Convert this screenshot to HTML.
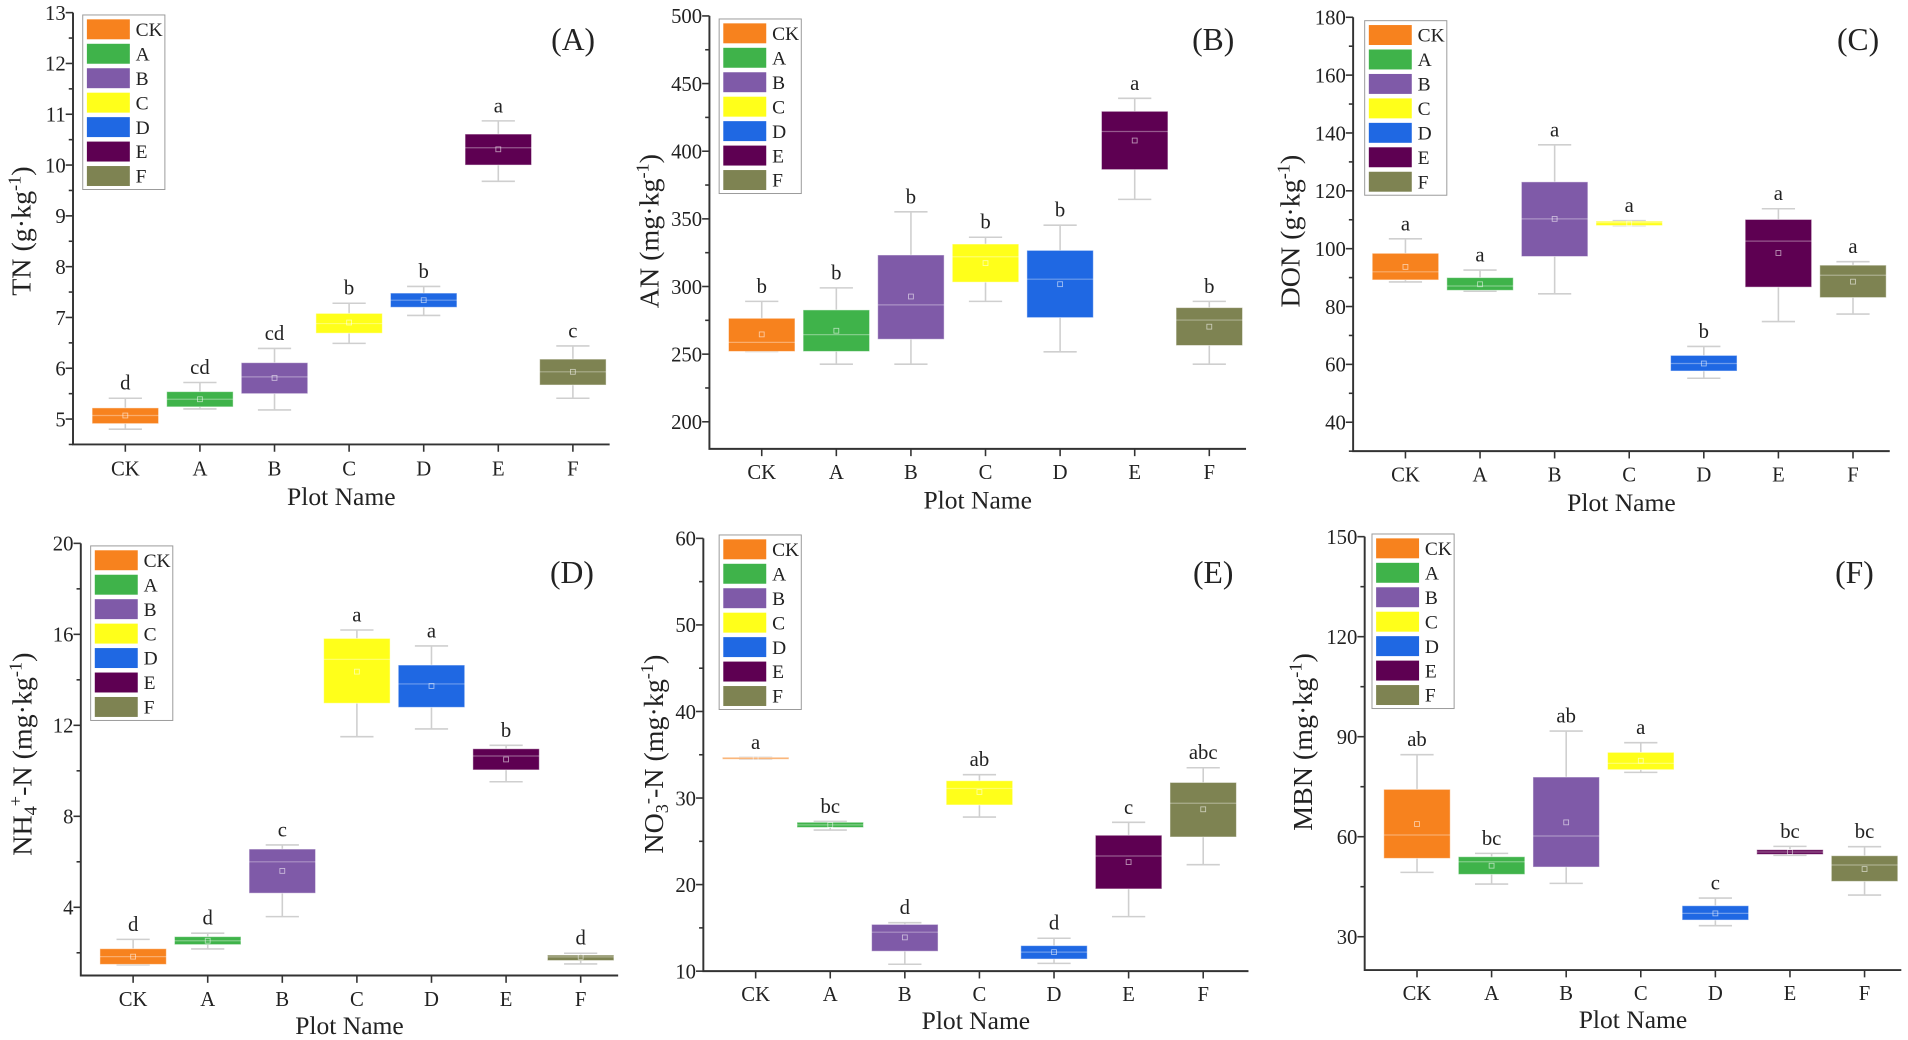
<!DOCTYPE html>
<html><head><meta charset="utf-8"><style>
html,body{margin:0;padding:0;background:#fff;}
svg{display:block;font-family:"Liberation Serif",serif;}
</style></head><body>
<svg id="fig" width="1908" height="1040" viewBox="0 0 1568 855" preserveAspectRatio="none" xmlns="http://www.w3.org/2000/svg"></svg>
<script>
const categories = ["CK","A","B","C","D","E","F"];
const colors = ["#f7821e","#3fb34a","#7f5aa8","#ffff1a","#1f68e3","#5e0052","#7e8352"];

const tnLow=[4.80,5.20,5.18,6.49,7.04,9.68,5.41], tnQ1=[4.91,5.24,5.50,6.69,7.20,10.00,5.67], tnMed=[5.07,5.39,5.83,6.88,7.34,10.34,5.93], tnQ3=[5.22,5.54,6.11,7.08,7.48,10.61,6.18], tnHigh=[5.41,5.72,6.39,7.28,7.61,10.87,6.44], tnMean=[5.07,5.39,5.81,6.90,7.34,10.31,5.93];
const tnLetters=["d","cd","cd","b","b","a","c"];
const tnTicks=[5,6,7,8,9,10,11,12,13];

const anLow=[252,242.6,242.6,289,251.7,364.4,242.6], anQ1=[252,252,261,303.2,277,386.4,256.4], anMed=[258.7,264.4,286.4,322,305.4,414.6,275.2], anQ3=[276.5,282.7,323.3,331.4,326.7,429.5,284.4], anHigh=[289,299,355.2,336.4,345.3,439.1,289], anMean=[264.6,267.3,292.6,317.3,301.7,407.9,270.3];
const anLetters=["b","b","b","b","b","a","b"];
const anTicks=[200,250,300,350,400,450,500];

const donLow=[88.5,85.3,84.4,108,55.2,74.8,77.4], donQ1=[89.2,85.6,97.3,108,57.7,86.7,83.1], donMed=[92,87.1,110.3,109,60.3,102.6,90.8], donQ3=[98.4,90,123.1,109.5,63.1,110.1,94.3], donHigh=[103.4,92.6,135.9,109.7,66.2,113.8,95.5], donMean=[93.7,87.7,110.3,108.7,60.3,98.5,88.6];
const donLetters=["a","a","a","a","b","a","a"];
const donTicks=[40,60,80,100,120,140,160,180];

const nhLow=[1.47,2.17,3.59,11.5,11.84,9.52,1.51], nhQ1=[1.49,2.36,4.62,12.97,12.79,10.04,1.66], nhMed=[1.83,2.53,6.0,14.9,13.82,10.65,1.82], nhQ3=[2.18,2.71,6.56,15.82,14.65,10.97,1.9], nhHigh=[2.59,2.86,6.74,16.19,15.49,11.12,1.98], nhMean=[1.83,2.53,5.6,14.36,13.73,10.5,1.82];
const nhLetters=["d","d","c","a","a","b","d"];
const nhTicks=[4,8,12,16,20];

const noLow=[34.5,26.3,10.8,27.8,10.9,16.3,22.3], noQ1=[34.5,26.6,12.3,29.2,11.4,19.5,25.5], noMed=[34.6,26.9,14.5,31.1,12.2,23.3,29.4], noQ3=[34.7,27.2,15.4,32.0,12.95,25.7,31.8], noHigh=[34.7,27.3,15.6,32.7,13.8,27.2,33.5], noMean=[34.6,26.9,13.9,30.7,12.2,22.6,28.7];
const noLetters=["a","bc","d","ab","d","c","abc"];
const noTicks=[10,20,30,40,50,60];

const mbnLow=[49.3,45.8,46,79.3,33.3,54.4,42.5], mbnQ1=[53.5,48.7,50.9,80.1,35,54.7,46.6], mbnMed=[60.5,52.5,60.2,82,37,55.4,51.5], mbnQ3=[74.2,54,77.9,85.3,39.3,56.1,54.3], mbnHigh=[84.6,55,91.7,88.2,41.6,57.1,57], mbnMean=[63.8,51.3,64.3,82.8,37,55.4,50.3];
const mbnLetters=["ab","bc","ab","a","c","bc","bc"];
const mbnTicks=[30,60,90,120,150];

const NS="http://www.w3.org/2000/svg";
const svg=document.getElementById('fig');
function el(tag,attrs,parent){const e=document.createElementNS(NS,tag);for(const k in attrs)e.setAttribute(k,attrs[k]);(parent||svg).appendChild(e);return e;}

const panels=[
 {id:"a",tag:"(A)",low:tnLow,q1:tnQ1,med:tnMed,q3:tnQ3,high:tnHigh,mean:tnMean,letters:tnLetters,ticks:tnTicks,min:4.5,max:13,ax:60,right:501,top:10.4,bottom:365.4,leg:[68,12.3],lab:[471,41],yl:[17,190],ylab:["TN (g·kg","-1",")"],tickY:391,pnY:415},
 {id:"b",tag:"(B)",low:anLow,q1:anQ1,med:anMed,q3:anQ3,high:anHigh,mean:anMean,letters:anLetters,ticks:anTicks,min:180,max:500,ax:583,right:1024,top:13.1,bottom:369,leg:[591,15.6],lab:[997,41],yl:[533,190],ylab:["AN (mg·kg","-1",")"],tickY:394,pnY:418},
 {id:"c",tag:"(C)",low:donLow,q1:donQ1,med:donMed,q3:donQ3,high:donHigh,mean:donMean,letters:donLetters,ticks:donTicks,min:30,max:180,ax:1112,right:1553,top:14.2,bottom:370.9,leg:[1121.5,17],lab:[1527,41],yl:[1060,190],ylab:["DON (g·kg","-1",")"],tickY:396,pnY:420},
 {id:"d",tag:"(D)",low:nhLow,q1:nhQ1,med:nhMed,q3:nhQ3,high:nhHigh,mean:nhMean,letters:nhLetters,ticks:nhTicks,min:1,max:20,ax:66.4,right:508,top:446.7,bottom:802,leg:[74.5,448.8],lab:[470,479.5],yl:[18,620],ylab:"nh",tickY:827,pnY:850},
 {id:"e",tag:"(E)",low:noLow,q1:noQ1,med:noMed,q3:noQ3,high:noHigh,mean:noMean,letters:noLetters,ticks:noTicks,min:10,max:60,ax:578,right:1026,top:442.6,bottom:798.4,leg:[591,439.8],lab:[997,479.5],yl:[537,620],ylab:"no",tickY:823,pnY:846},
 {id:"f",tag:"(F)",low:mbnLow,q1:mbnQ1,med:mbnMed,q3:mbnQ3,high:mbnHigh,mean:mbnMean,letters:mbnLetters,ticks:mbnTicks,min:20,max:150,ax:1121.5,right:1562.5,top:441.2,bottom:797.5,leg:[1127.5,439],lab:[1524,479.5],yl:[1070,610],ylab:["MBN (mg·kg","-1",")"],tickY:822,pnY:845}
];

panels.forEach(p=>{
  const g=el('g',{});
  
  
  const y=v=>p.bottom-(v-p.min)/(p.max-p.min)*(p.bottom-p.top);
  const x=i=>p.ax+43+i*61.3;
  const hw=27.3;
  categories.forEach((c,i)=>{
    const bg=el('g',{},g);
    
    
    const wc='#cfcfcf';
    el('line',{x1:x(i),x2:x(i),y1:y(p.high[i]),y2:y(p.q3[i]),stroke:wc,'stroke-width':1.3},bg);
    el('line',{x1:x(i),x2:x(i),y1:y(p.q1[i]),y2:y(p.low[i]),stroke:wc,'stroke-width':1.3},bg);
    el('line',{x1:x(i)-hw/2,x2:x(i)+hw/2,y1:y(p.high[i]),y2:y(p.high[i]),stroke:wc,'stroke-width':1.3},bg);
    el('line',{x1:x(i)-hw/2,x2:x(i)+hw/2,y1:y(p.low[i]),y2:y(p.low[i]),stroke:wc,'stroke-width':1.3},bg);
    const h=Math.max(1.5,y(p.q1[i])-y(p.q3[i]));
    el('rect',{x:x(i)-hw,y:y(p.q3[i]),width:2*hw,height:h,fill:colors[i],stroke:'rgba(255,255,255,0.5)','stroke-width':0.8},bg);
    el('line',{x1:x(i)-hw,x2:x(i)+hw,y1:y(p.med[i]),y2:y(p.med[i]),stroke:'rgba(255,255,255,0.35)','stroke-width':1},bg);
    el('rect',{x:x(i)-2,y:y(p.mean[i])-2,width:4,height:4,fill:'none',stroke:'rgba(255,255,255,0.6)','stroke-width':0.7},bg);
    const lt=el('text',{x:x(i),y:y(p.high[i])-7,'text-anchor':'middle','font-size':17,fill:'#222'},g);
    lt.textContent=p.letters[i];
    
    
    el('line',{x1:x(i),x2:x(i),y1:p.bottom,y2:p.bottom+6,stroke:'#333','stroke-width':1.3},g);
    const xt=el('text',{x:x(i),y:p.tickY,'text-anchor':'middle','font-size':17,fill:'#222'},g);
    xt.textContent=c;
    
    
  });
  const axs=el('path',{d:`M${p.ax},${p.top} V${p.bottom} H${p.right}`,fill:'none',stroke:'#333','stroke-width':1.6},g);
  
  
  const step=p.ticks[1]-p.ticks[0];
  for(let v=p.ticks[0]-step;v<=p.max+1e-9;v+=step/2){
    if(v<p.min-1e-9)continue;
    const major=p.ticks.some(t=>Math.abs(t-v)<1e-9);
    el('line',{x1:p.ax-(major?6:3.5),x2:p.ax,y1:y(v),y2:y(v),stroke:'#333','stroke-width':1.3},g);
  }
  p.ticks.forEach(t=>{
    const tt=el('text',{x:p.ax-6,y:y(t)+6,'text-anchor':'end','font-size':17,fill:'#222'},g);
    tt.textContent=t;
    
    
  });
  const pn=el('text',{x:(p.ax+p.right)/2,y:p.pnY,'text-anchor':'middle','font-size':21,fill:'#222'},g);
  pn.textContent='Plot Name';
  
  
  const yl=el('text',{x:0,y:0,'text-anchor':'middle','font-size':23,fill:'#222',transform:`translate(${p.yl[0]+8},${p.yl[1]}) rotate(-90)`},g);
  
  
  function ts(txt,attrs){const t=el('tspan',attrs||{},yl);t.textContent=txt;return t;}
  if(p.ylab==="nh"){ts('NH');ts('4',{'baseline-shift':'-25%','font-size':15});ts('+',{'baseline-shift':'55%','font-size':15});ts('-N (mg·kg');ts('-1',{'baseline-shift':'super','font-size':15});ts(')');}
  else if(p.ylab==="no"){ts('NO');ts('3',{'baseline-shift':'-25%','font-size':15});ts('-',{'baseline-shift':'55%','font-size':15});ts('-N (mg·kg');ts('-1',{'baseline-shift':'super','font-size':15});ts(')');}
  else{ts(p.ylab[0]);ts(p.ylab[1],{'baseline-shift':'super','font-size':15});ts(p.ylab[2]);}
  const tg=el('text',{x:p.lab[0],y:p.lab[1],'text-anchor':'middle','font-size':26,fill:'#222'},g);
  tg.textContent=p.tag;
  
  
  const lg=el('g',{},g);
  
  
  el('rect',{x:p.leg[0],y:p.leg[1],width:67.5,height:143.5,fill:'#fff',stroke:'#999','stroke-width':0.8},lg);
  categories.forEach((c,i)=>{
    const cy=p.leg[1]+11.8+i*20.1;
    const sw=el('rect',{x:p.leg[0]+3.4,y:cy-8.2,width:35.3,height:16.4,fill:colors[i]},lg);
    
    
    const lt=el('text',{x:p.leg[0]+43.5,y:cy+5.5,'font-size':16,fill:'#222'},lg);
    lt.textContent=c;
    
    
  });
});
</script>
</body></html>
